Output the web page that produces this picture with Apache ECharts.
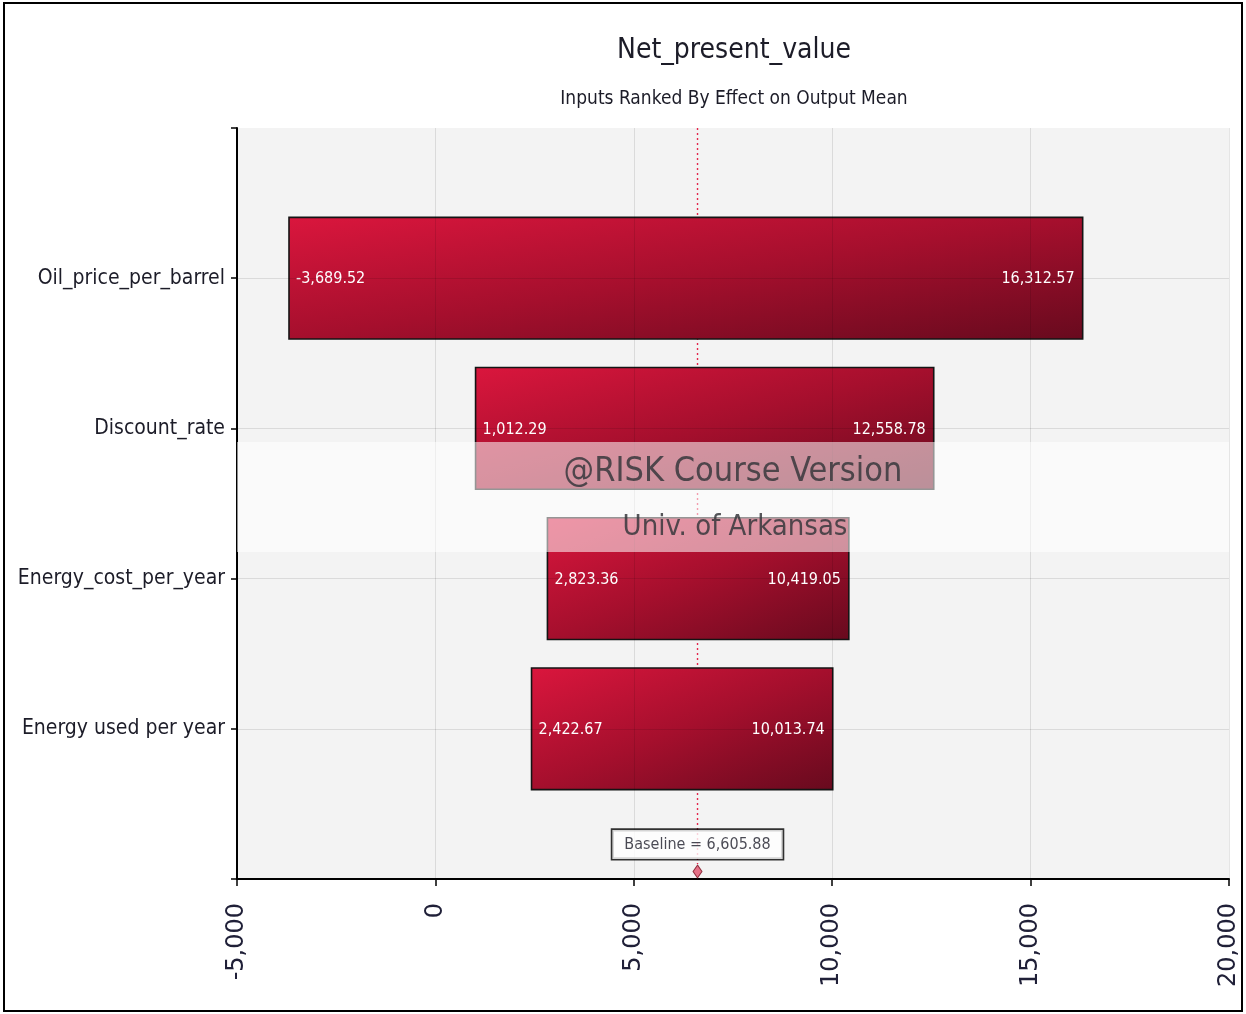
<!DOCTYPE html>
<html>
<head>
<meta charset="utf-8">
<script src="https://cdn.jsdelivr.net/npm/echarts@6/dist/echarts.min.js"></script>
<style>
  html, body { margin: 0; padding: 0; background: #fff; }
  #chart { width: 1246px; height: 1014px; }
</style>
</head>
<body>
<div id="chart"></div>
<script>
// Tornado chart: output mean of Net_present_value when each input moves low -> high
const chartTitle = 'Net_present_value';
const chartSubtitle = 'Inputs Ranked By Effect on Output Mean';
const categories = ['Oil_price_per_barrel', 'Discount_rate', 'Energy_cost_per_year', 'Energy used per year'];
const lowValues = [-3689.52, 1012.29, 2823.36, 2422.67];
const highValues = [16312.57, 12558.78, 10419.05, 10013.74];
const baselineValue = 6605.88;
const xMin = -5000, xMax = 20000, xStep = 5000;
const watermarkLines = ['@RISK Course Version', 'Univ. of Arkansas'];

const NARROW = "'DejaVu Sans Condensed', 'Liberation Sans Narrow', 'Arial Narrow', sans-serif";
const fmt = v => v.toLocaleString('en-US', { minimumFractionDigits: 2, maximumFractionDigits: 2 });
const fmtTick = v => v.toLocaleString('en-US');

const barData = categories.map((c, i) => [i + 1, lowValues[i], highValues[i]]);

// Shading runs from the top-left corner to the bottom-right corner, with
// equal weight given to the horizontal and vertical position inside the bar.
function barFill(x, y, w, h) {
  const k = 2 / (1 / (w * w) + 1 / (h * h));
  return new echarts.graphic.LinearGradient(x, y, x + k / w, y + k / h, [
    { offset: 0, color: '#da163d' },
    { offset: 0.5, color: '#a50f2d' },
    { offset: 1, color: '#680a1e' }
  ], true);
}

function renderBar(params, api) {
  const pos = api.value(0);
  const lo = api.coord([api.value(1), pos]);
  const hi = api.coord([api.value(2), pos]);
  const h = api.size([0, 0.81])[1];
  const x0 = lo[0], x1 = hi[0], yc = lo[1];
  const top = yc - h / 2;
  return {
    type: 'group',
    children: [
      {
        type: 'rect',
        shape: { x: x0, y: top, width: x1 - x0, height: h },
        style: {
          fill: barFill(x0, top, x1 - x0, h),
          stroke: '#141414',
          lineWidth: 1.6
        }
      },
      {
        type: 'text',
        style: {
          x: x0 + 7, y: yc + 1,
          text: fmt(api.value(1)),
          fill: '#ffffff',
          font: '16px ' + NARROW,
          align: 'left', verticalAlign: 'middle'
        }
      },
      {
        type: 'text',
        style: {
          x: x1 - 8, y: yc + 1,
          text: fmt(api.value(2)),
          fill: '#ffffff',
          font: '16px ' + NARROW,
          align: 'right', verticalAlign: 'middle'
        }
      }
    ]
  };
}

const chart = echarts.init(document.getElementById('chart'), null, { renderer: 'canvas' });

chart.setOption({
  animation: false,
  backgroundColor: '#ffffff',
  title: {
    text: chartTitle,
    subtext: chartSubtitle,
    left: 734,
    top: 37,
    textAlign: 'center',
    padding: 0,
    itemGap: 25,
    textStyle: { fontFamily: NARROW, fontSize: 28, fontWeight: 'normal', color: '#1c1c28' },
    subtextStyle: { fontFamily: NARROW, fontSize: 19, color: '#1c1c28' }
  },
  grid: {
    left: 237, right: 17, top: 128, bottom: 135,
    outerBoundsMode: 'none',
    containLabel: false,
    show: true, backgroundColor: '#f3f3f3', borderWidth: 0
  },
  xAxis: {
    type: 'value',
    min: xMin, max: xMax, interval: xStep,
    z: 3,
    axisLine: { show: true, onZero: false, lineStyle: { color: '#000', width: 2 } },
    axisTick: { show: true, length: 7, lineStyle: { color: '#000', width: 1.5 } },
    axisLabel: {
      rotate: 90, margin: 24, formatter: fmtTick,
      fontFamily: 'DejaVu Sans', fontSize: 24, color: '#202038'
    },
    splitLine: { show: true, lineStyle: { color: 'rgba(0,0,0,0.1)', width: 1 } }
  },
  yAxis: {
    type: 'value',
    min: 0, max: 5, interval: 1,
    inverse: true,
    z: 3,
    axisLine: { show: true, onZero: false, lineStyle: { color: '#000', width: 2 } },
    axisTick: { show: true, length: 6, lineStyle: { color: '#000', width: 1.5 } },
    axisLabel: {
      margin: 12,
      formatter: v => categories[v - 1] || '',
      fontFamily: NARROW, fontSize: 21, color: '#1c1c28'
    },
    splitLine: { show: true, showMinLine: false, showMaxLine: false, lineStyle: { color: 'rgba(0,0,0,0.1)', width: 1 } }
  },
  series: [
    {
      // baseline reference line, drawn beneath the bars
      type: 'line',
      z: 1,
      silent: true,
      symbol: 'none',
      data: [[baselineValue, 0], [baselineValue, 4.9]],
      lineStyle: { color: '#e4264c', width: 1.4, type: [2, 3] }
    },
    {
      type: 'custom',
      z: 2,
      renderItem: renderBar,
      encode: { x: [1, 2], y: 0 },
      data: barData
    },
    {
      // baseline marker on the axis
      type: 'scatter',
      z: 5,
      silent: true,
      symbol: 'diamond',
      symbolSize: [9, 13],
      itemStyle: { color: '#e0506c', borderColor: '#7a1020', borderWidth: 1 },
      data: [[baselineValue, 4.95]]
    },
    {
      // baseline caption box
      type: 'scatter',
      z: 6,
      silent: true,
      symbolSize: 0,
      data: [[baselineValue, 4.77]],
      label: {
        show: true,
        position: 'inside',
        formatter: () => 'Baseline = ' + fmt(baselineValue),
        fontFamily: NARROW, fontSize: 16, color: '#1c1c28',
        backgroundColor: '#ffffff',
        borderColor: '#000', borderWidth: 1.6,
        padding: [7, 12, 6, 12]
      }
    }
  ],
  graphic: [
    {
      type: 'rect', z: 50, silent: true,
      shape: { x: 237, y: 442, width: 992, height: 110 },
      style: { fill: 'rgba(255,255,255,0.55)' }
    },
    {
      type: 'text', z: 51, silent: true,
      style: {
        x: 733, y: 472, text: watermarkLines[0],
        font: '34px ' + NARROW, fill: 'rgba(55,55,60,0.85)',
        align: 'center', verticalAlign: 'middle'
      }
    },
    {
      type: 'text', z: 51, silent: true,
      style: {
        x: 735, y: 527, text: watermarkLines[1],
        font: '29px ' + NARROW, fill: 'rgba(55,55,60,0.85)',
        align: 'center', verticalAlign: 'middle'
      }
    },
    {
      type: 'rect', z: 60, silent: true,
      shape: { x: 4, y: 3, width: 1238, height: 1008 },
      style: { fill: 'none', stroke: '#000', lineWidth: 2 }
    }
  ]
});
</script>
</body>
</html>
